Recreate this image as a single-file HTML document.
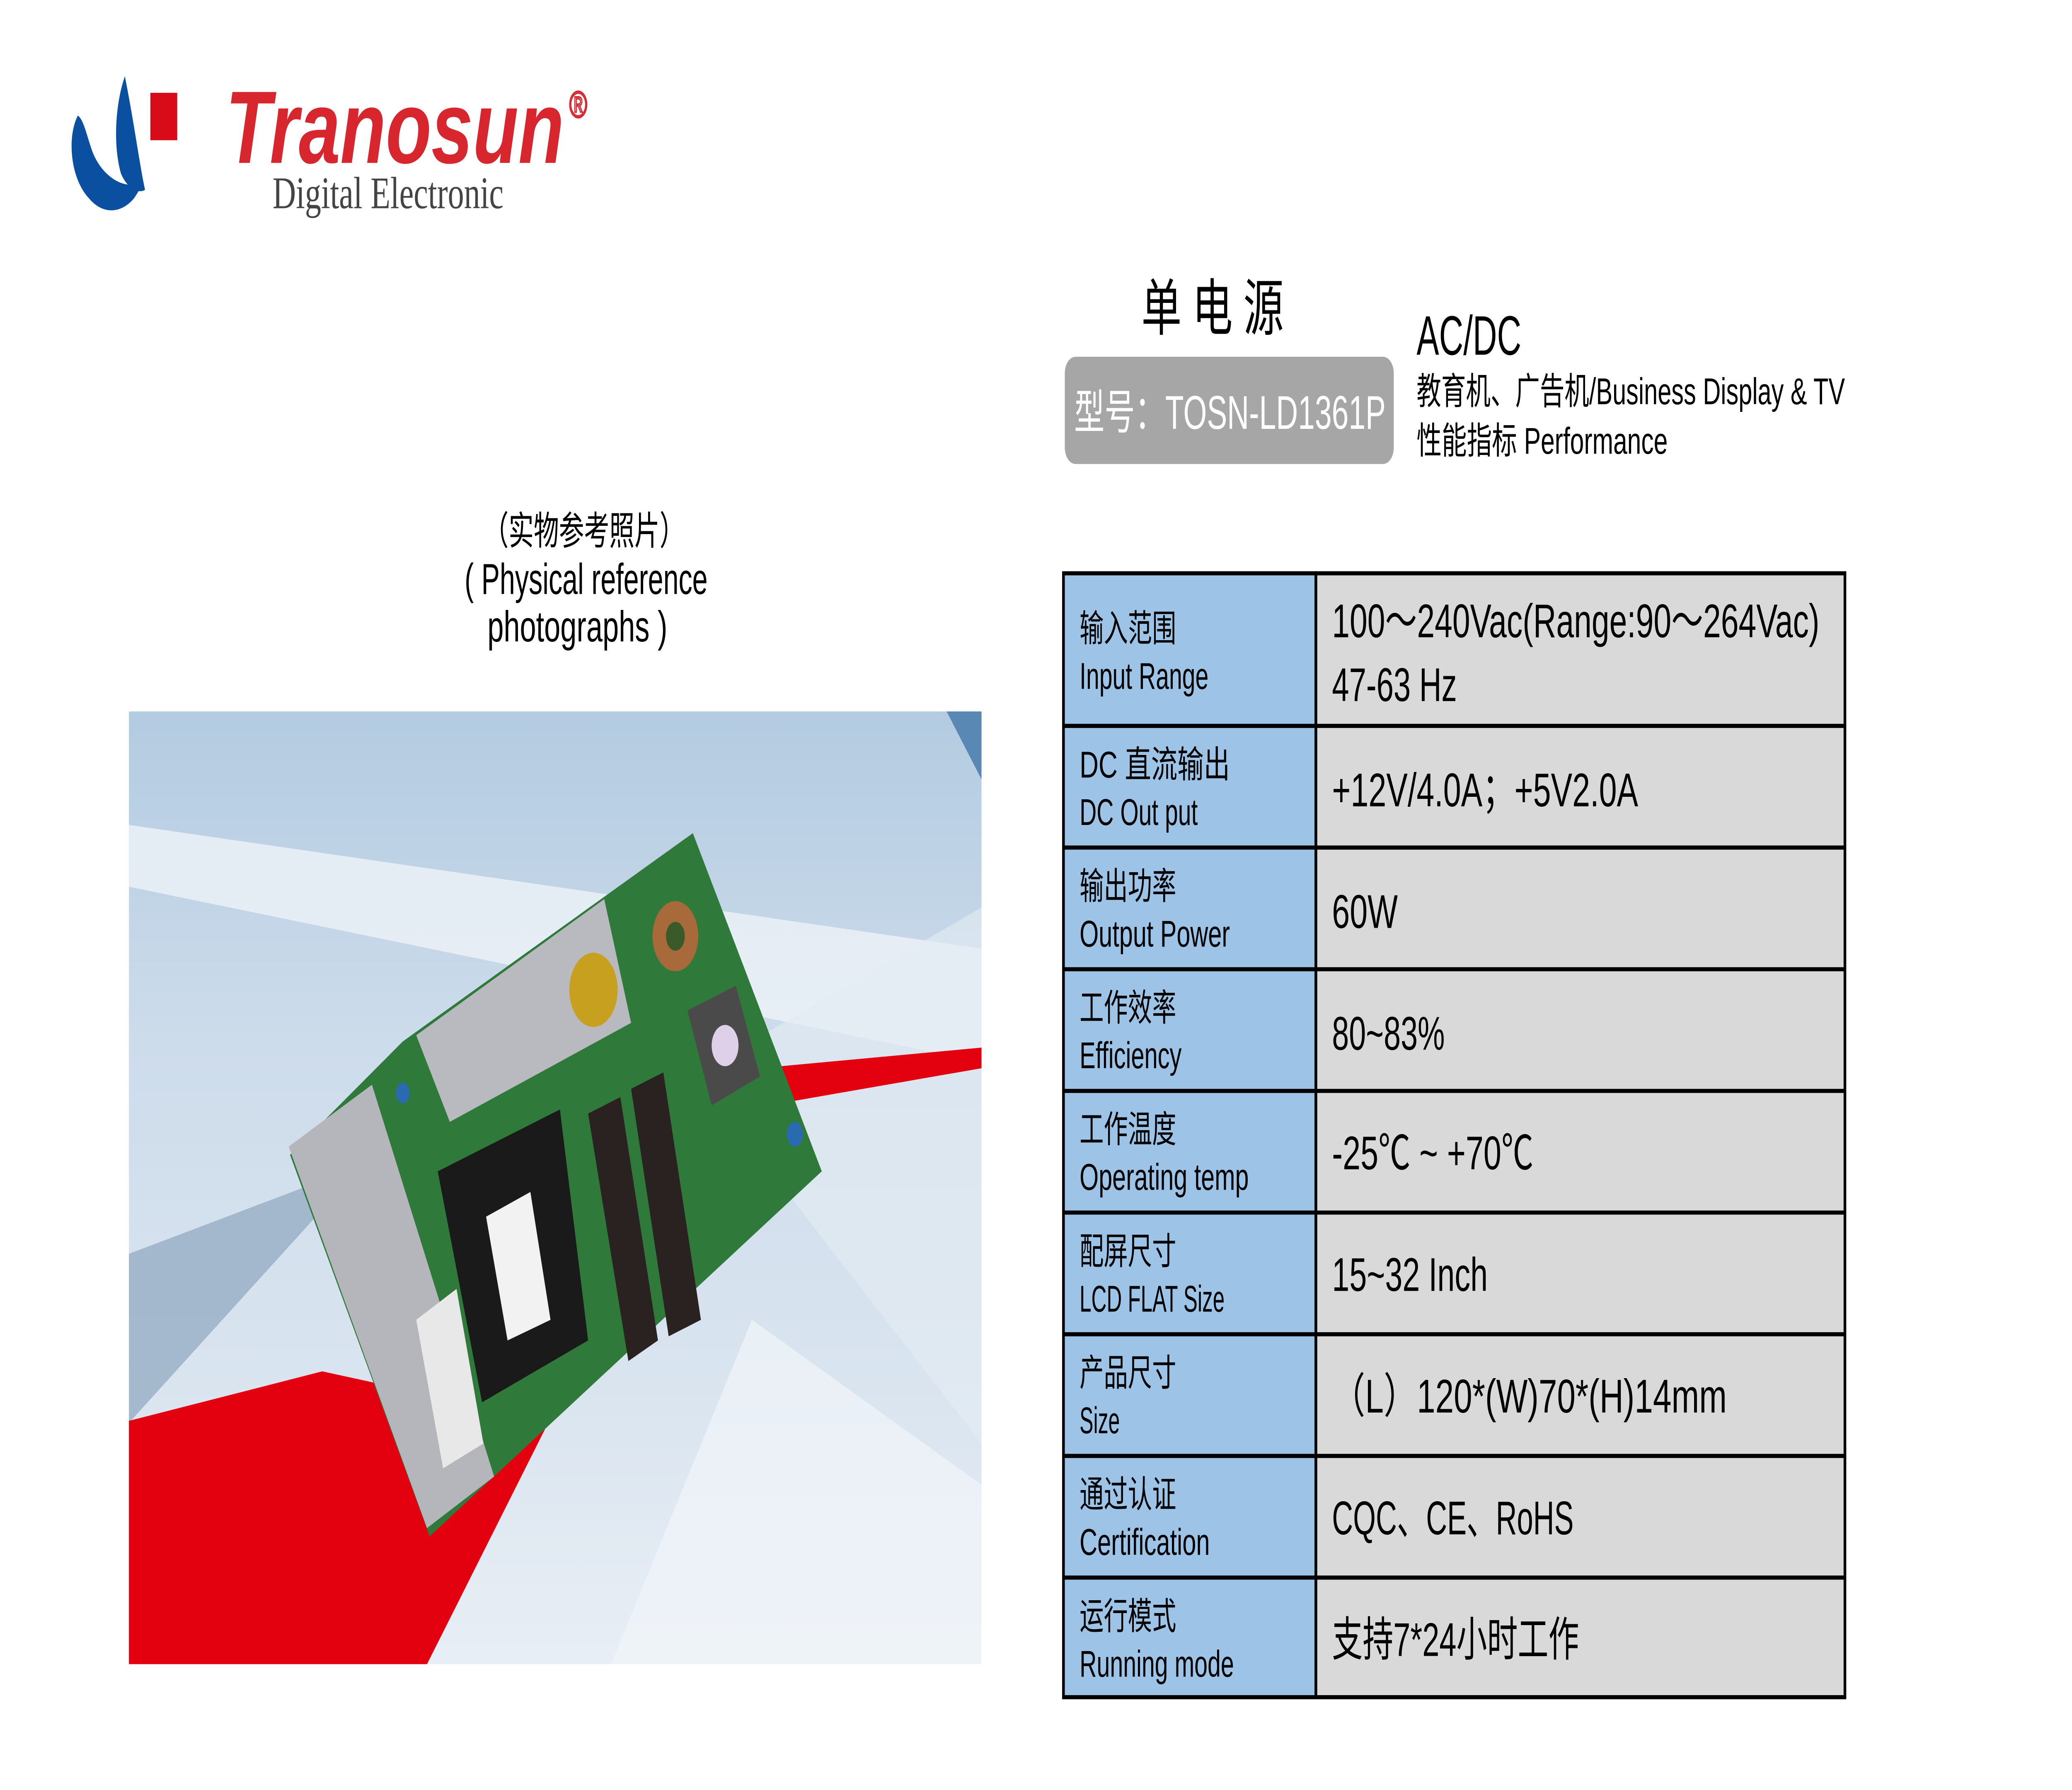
<!DOCTYPE html>
<html><head><meta charset="utf-8"><style>
html,body{margin:0;padding:0;background:#fff;width:100vw;height:100vh;overflow:hidden;}
svg{display:block;width:100vw;height:100vh;}
text{font-family:"Liberation Sans Narrow","Liberation Sans","Noto Sans CJK SC",sans-serif;}
.cj{font-family:"Liberation Sans","Noto Sans CJK SC",sans-serif;}
</style></head><body>
<svg viewBox="0 0 1543.1 868" preserveAspectRatio="none" xmlns="http://www.w3.org/2000/svg">
<defs>
<linearGradient id="sky" x1="0" y1="0" x2="0" y2="1">
<stop offset="0" stop-color="#b3cbe1"/><stop offset="0.35" stop-color="#cddceb"/><stop offset="0.7" stop-color="#d9e4ef"/><stop offset="1" stop-color="#e8eef5"/>
</linearGradient>
<clipPath id="ph"><rect x="96" y="345" width="635" height="462"/></clipPath>
</defs>
<rect width="1543.1" height="868" fill="#fff"/>

<!-- logo -->
<path d="M93,37 C86,50 84,70 90,84 C95,92 104,94 108,92 C104,80 100,60 93,37 Z" fill="#0b4fa0"/>
<path d="M58,56 C50,66 52,86 66,96 C76,104 90,104 100,96 C104,92 106,90 104,89 C90,92 74,84 68,72 C64,64 62,58 58,56 Z" fill="#0b4fa0"/>
<rect x="112" y="45" width="20" height="23" fill="#d80c18"/>
<text x="168" y="79" font-size="50" font-weight="bold" font-style="italic" fill="#d7262e" textLength="252" lengthAdjust="spacingAndGlyphs" style="font-family:'Liberation Sans',sans-serif">Tranosun</text>
<text x="424" y="57" font-size="18" fill="none" stroke="#d7262e" stroke-width="0.8" style="font-family:'Liberation Sans',sans-serif">®</text>
<text x="203" y="101" font-size="22" fill="#444" textLength="172" lengthAdjust="spacingAndGlyphs" style="font-family:'Liberation Serif',serif">Digital Electronic</text>

<!-- header right -->
<text x="850" y="160" font-size="30" fill="#000" class="cj" letter-spacing="8">单电源</text>
<rect x="793" y="173" width="245" height="52" rx="8" fill="#a6a6a6"/>
<text x="800" y="208" font-size="23" fill="#fff" textLength="232" lengthAdjust="spacingAndGlyphs">型号：TOSN-LD1361P</text>
<text x="1055" y="172" font-size="27" fill="#000" textLength="78" lengthAdjust="spacingAndGlyphs">AC/DC</text>
<text x="1055" y="196" font-size="18" fill="#000" textLength="319" lengthAdjust="spacingAndGlyphs">教育机、广告机/Business Display &amp; TV</text>
<text x="1055" y="220" font-size="18" fill="#000" textLength="187" lengthAdjust="spacingAndGlyphs">性能指标 Performance</text>

<!-- caption -->
<text x="360" y="264" font-size="19" fill="#000" textLength="150" lengthAdjust="spacingAndGlyphs">（实物参考照片）</text>
<text x="346" y="288" font-size="21" fill="#000" textLength="181" lengthAdjust="spacingAndGlyphs">( Physical reference</text>
<text x="363" y="311" font-size="21" fill="#000" textLength="134" lengthAdjust="spacingAndGlyphs">photographs )</text>

<!-- photo -->
<g clip-path="url(#ph)">
<rect x="96" y="345" width="635" height="462" fill="url(#sky)"/>
<polygon points="96,400 731,460 731,515 96,430" fill="#eef3f8" opacity="0.8"/>
<polygon points="96,608 270,565 96,690" fill="#8ea6bf" opacity="0.7"/>
<polygon points="455,807 560,640 731,720 731,807" fill="#f1f5f9" opacity="0.7"/>
<polygon points="520,520 731,440 731,700 600,590" fill="#e4ecf4" opacity="0.6"/>
<polygon points="705,345 731,345 731,378" fill="#5a88b5"/>
<polygon points="96,689 240,665 409,689 318,807 96,807" fill="#e3000f"/>
<polygon points="582,517 731,508 731,518 590,534" fill="#e3000f"/>
<polygon points="216,560 300,505 516,404 612,568 320,745" fill="#2f7a3b"/>
<polygon points="215,556 277,526 368,716 318,741" fill="#b4b6bb"/>
<polygon points="310,502 450,436 470,496 335,544" fill="#b8babf"/>
<circle cx="442" cy="480" r="18" fill="#c8a020"/>
<circle cx="503" cy="454" r="17" fill="#a86a3a"/><circle cx="503" cy="454" r="7" fill="#3a5a2a"/>
<polygon points="512,490 548,478 566,522 530,536" fill="#4a4a4a"/>
<circle cx="540" cy="507" r="10" fill="#ddd0e8"/>
<polygon points="326,568 417,538 438,650 359,680" fill="#1a1a1a"/>
<polygon points="362,590 395,578 410,640 378,650" fill="#f2f2f2"/>
<polygon points="438,540 462,532 490,650 468,660" fill="#2a2220"/>
<polygon points="470,528 494,520 522,640 498,648" fill="#2a2220"/>
<polygon points="310,640 340,625 360,700 330,712" fill="#e8e8e8"/>
<circle cx="300" cy="530" r="5" fill="#2a6ab0"/>
<circle cx="592" cy="550" r="6" fill="#2a6ab0"/>
</g>

<!-- table -->
<g stroke="#000" stroke-width="2">
<rect x="792" y="278" width="188" height="545" fill="#9dc3e6"/>
<rect x="980" y="278" width="394" height="545" fill="#d9d9d9"/>
<line x1="792" y1="352" x2="1374" y2="352"/>
<line x1="792" y1="411" x2="1374" y2="411"/>
<line x1="792" y1="470" x2="1374" y2="470"/>
<line x1="792" y1="529" x2="1374" y2="529"/>
<line x1="792" y1="588" x2="1374" y2="588"/>
<line x1="792" y1="647" x2="1374" y2="647"/>
<line x1="792" y1="706" x2="1374" y2="706"/>
<line x1="792" y1="765" x2="1374" y2="765"/>
</g>
<g font-size="18" fill="#000">
<text x="804" y="311">输入范围</text><text x="804" y="334" textLength="96" lengthAdjust="spacingAndGlyphs">Input Range</text>
<text x="804" y="377" textLength="112" lengthAdjust="spacingAndGlyphs">DC 直流输出</text><text x="804" y="400" textLength="88" lengthAdjust="spacingAndGlyphs">DC Out put</text>
<text x="804" y="436">输出功率</text><text x="804" y="459" textLength="112" lengthAdjust="spacingAndGlyphs">Output Power</text>
<text x="804" y="495">工作效率</text><text x="804" y="518" textLength="76" lengthAdjust="spacingAndGlyphs">Efficiency</text>
<text x="804" y="554">工作温度</text><text x="804" y="577" textLength="126" lengthAdjust="spacingAndGlyphs">Operating temp</text>
<text x="804" y="613">配屏尺寸</text><text x="804" y="636" textLength="108" lengthAdjust="spacingAndGlyphs">LCD FLAT Size</text>
<text x="804" y="672">产品尺寸</text><text x="804" y="695" textLength="30" lengthAdjust="spacingAndGlyphs">Size</text>
<text x="804" y="731">通过认证</text><text x="804" y="754" textLength="97" lengthAdjust="spacingAndGlyphs">Certification</text>
<text x="804" y="790">运行模式</text><text x="804" y="813" textLength="115" lengthAdjust="spacingAndGlyphs">Running mode</text>
</g>
<g font-size="23" fill="#000">
<text x="992" y="309" textLength="363" lengthAdjust="spacingAndGlyphs">100～240Vac(Range:90～264Vac)</text>
<text x="992" y="340" textLength="93" lengthAdjust="spacingAndGlyphs">47-63 Hz</text>
<text x="992" y="391" textLength="228" lengthAdjust="spacingAndGlyphs">+12V/4.0A；+5V2.0A</text>
<text x="992" y="450" textLength="49" lengthAdjust="spacingAndGlyphs">60W</text>
<text x="992" y="509" textLength="84" lengthAdjust="spacingAndGlyphs">80~83%</text>
<text x="992" y="567" textLength="150" lengthAdjust="spacingAndGlyphs">-25℃ ~ +70℃</text>
<text x="992" y="626" textLength="116" lengthAdjust="spacingAndGlyphs">15~32 Inch</text>
<text x="992" y="685" textLength="294" lengthAdjust="spacingAndGlyphs">（L）120*(W)70*(H)14mm</text>
<text x="992" y="744" textLength="180" lengthAdjust="spacingAndGlyphs">CQC、CE、RoHS</text>
<text x="992" y="803" textLength="184" lengthAdjust="spacingAndGlyphs">支持7*24小时工作</text>
</g>
</svg>
</body></html>
